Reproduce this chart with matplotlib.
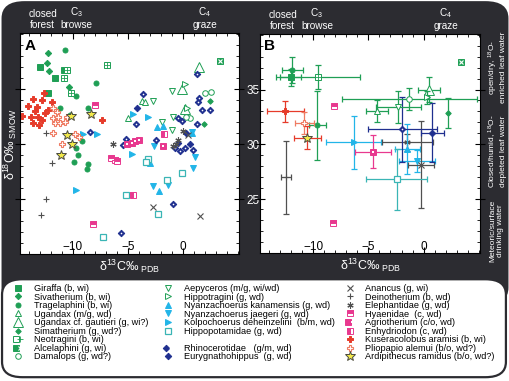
import matplotlib
matplotlib.use('Agg')
import matplotlib.pyplot as plt
from matplotlib.patches import FancyBboxPatch
from matplotlib.lines import Line2D
from matplotlib.legend_handler import HandlerTuple
from matplotlib.ticker import MultipleLocator, FixedLocator

plt.rcParams['font.family'] = ['Liberation Sans', 'DejaVu Sans']
plt.rcParams['mathtext.fontset'] = 'custom'
plt.rcParams['mathtext.rm'] = 'Liberation Sans'
plt.rcParams['mathtext.it'] = 'Liberation Sans:italic'
plt.rcParams['mathtext.bf'] = 'Liberation Sans:bold'

# colores
GREEN = '#1f9f55'
CYAN = '#22b5e8'
TEAL = '#3ab5b5'
NAVY = '#1f2f8f'
PINK = '#e8388f'
RED = '#e63b2a'
SALMON = '#ef7b62'
GRAY = '#505050'
YELLOW = '#f2e94a'
DARK = '#2c2c31'

# --- painel A: valores individuais (d13C, d18O) ---
giraffa = [(-12.95, 37.05), (-11.64, 36.03), (-10.79, 36.75), (-12.25, 34.64)]
sivatherium = [(-12.25, 38.27), (-12.39, 37.36), (-12.15, 36.66), (-10.36, 35.15)]
tragelaphini = [(-10.73, 38.57), (-7.85, 35.55), (-9.73, 34.33), (-11.12, 33.27), (-8.61, 33.27),
                (-10.27, 32.66), (-9.15, 30.24), (-9.75, 29.64), (-9.52, 29.03), (-9.91, 28.36),
                (-8.61, 28.18), (-8.70, 27.71)]
ugandax = [(-3.7, 33.95), (-3.4, 33.8), (-4.97, 32.36)]
ugandax_cf = [(1.45, 37.05), (-0.12, 35.0), (0.18, 33.2)]
simatherium = [(2.45, 33.9), (1.95, 31.8)]
neotragini = [(-10.57, 36.69), (-10.79, 35.98), (-10.18, 34.65), (-6.88, 37.15)]
alcelaphini = [(3.36, 37.57)]
damalops = [(2.0, 34.64), (2.6, 34.7), (0.64, 32.36), (0.3, 32.5)]
aepyceros = [(-2.7, 33.94), (-1.03, 34.78), (-1.88, 32.05), (-0.88, 32.45), (-1.03, 31.3)]
hippotragini = [(0.2, 35.45), (0.35, 33.3)]
kanamensis = [(-2.39, 31.51), (-1.8, 31.65), (-3.0, 28.27), (-2.15, 25.75), (0.8, 31.0)]
jaegeri = [(1.09, 28.82), (0.94, 27.82), (-1.34, 26.3), (-2.7, 26.15), (-2.64, 29.78), (0.8, 31.1)]
kolpochoerus = [(-9.06, 30.9), (-7.8, 30.9), (-3.15, 32.5), (-9.73, 25.85), (-4.66, 29.12), (-4.52, 32.75)]
hippopotamidae = [(-3.15, 28.64), (-3.39, 28.36), (-0.12, 27.36), (-1.48, 26.69), (-5.18, 25.39),
                  (-2.25, 23.64), (-7.3, 21.55)]
rhinocerotidae = [(-3.64, 34.57), (1.27, 36.39), (1.45, 34.21), (1.36, 33.85), (1.73, 33.12),
                  (2.45, 33.12), (-0.45, 32.39), (-0.09, 32.12), (1.27, 31.85), (-4.27, 31.85),
                  (-2.45, 30.39), (-0.73, 29.66), (-0.27, 29.39), (0.18, 29.66), (0.91, 29.48),
                  (-5.18, 30.48), (-5.45, 29.94), (-8.45, 31.12), (-0.91, 24.57), (-5.64, 21.94)]
eurygnathohippus = [(-4.18, 33.3), (0.64, 30.03), (-0.45, 30.12), (0.27, 31.03)]
anancus = [(-2.7, 24.27), (1.55, 23.48), (0.48, 30.78)]
deinotherium = [(-12.45, 31.0), (-11.85, 28.27), (-12.45, 25.0), (-12.85, 23.57)]
elephantidae = [(-6.33, 30.0), (0.0, 31.2), (-0.42, 30.4), (-0.88, 29.8), (-0.6, 30.0)]
hyaenidae = [(-8.0, 33.57), (-6.57, 28.73), (-6.18, 28.57), (-6.03, 28.42), (-8.15, 22.73)]
agriotherium = [(-5.12, 30.03), (-4.66, 30.09), (-4.36, 30.24), (-3.97, 30.39), (-1.85, 29.78)]
enhydriodon = [(-1.7, 30.94), (-4.57, 25.39)]
kuseracolobus = [(-13.64, 34.12), (-12.82, 34.03), (-11.91, 33.85), (-12.64, 34.66), (-14.09, 33.48),
                 (-13.27, 33.39), (-14.64, 32.57), (-13.82, 32.48), (-13.18, 32.48), (-12.82, 32.21),
                 (-13.64, 31.94), (-13.09, 31.75), (-12.55, 32.85), (-12.27, 33.12), (-13.45, 33.03),
                 (-7.36, 32.21)]
pliopapio = [(-11.82, 33.3), (-11.45, 32.94), (-11.64, 31.94), (-11.18, 31.94), (-10.73, 32.03),
             (-11.82, 32.39), (-11.36, 32.48), (-10.55, 32.48), (-11.82, 31.03), (-11.0, 30.03),
             (-9.82, 30.94), (-9.45, 30.66)]
ardipithecus = [(-10.21, 32.57), (-8.36, 32.73), (-10.55, 30.85), (-10.12, 30.03), (-11.09, 29.03)]

# --- painel B: medias e desvios ---
b_taxa = ['tragelaphini', 'giraffa', 'neotragini', 'tragelaphini', 'kuseracolobus', 'pliopapio',
          'ardipithecus', 'deinotherium', 'kolpochoerus', 'agriotherium', 'elephantidae', 'kanamensis',
          'jaegeri', 'anancus', 'hippopotamidae', 'rhinocerotidae', 'eurygnathohippus', 'ugandax',
          'aepyceros', 'damalops', 'simatherium', 'ugandax_cf', 'hippotragini', 'alcelaphini',
          'hyaenidae', 'hyaenidae']
b_x = [-11.89, -12.03, -9.51, -9.6, -12.5, -10.81, -10.52, -12.43, -6.33, -4.57, -1.46, -1.46,
       -0.61, -0.24, -2.43, -1.92, 0.77, -4.2, -2.28, -1.31, 2.2, 0.45, 0.3, 3.42, -8.07, -8.16]
b_y = [36.82, 36.12, 36.12, 31.73, 33.0, 31.94, 30.6, 26.94, 30.15, 29.3, 30.15, 29.55,
       28.48, 28.09, 26.79, 31.36, 31.03, 33.03, 33.39, 34.12, 32.85, 34.97, 34.3, 37.57, 33.45, 22.73]
b_xerr = [0.95, 0.95, 3.8, 0.75, 1.7, 0.85, 1.2, 0.45, 2.5, 1.6, 2.3, 1.15,
          1.65, 1.15, 2.75, 3.15, 1.05, 1.0, 2.0, 6.1, 0, 1.0, 0, 0, 0, 0]
b_yerr = [1.2, 0.8, 1.1, 3.15, 0.95, 1.0, 1.1, 3.35, 2.4, 1.5, 0.8, 2.3,
          1.0, 4.0, 2.8, 3.0, 2.7, 1.0, 1.45, 1.0, 1.4, 1.15, 0.6, 0, 0, 0]

# legenda (ordem por coluna)
col1 = ['giraffa', 'sivatherium', 'tragelaphini', 'ugandax', 'ugandax_cf', 'simatherium',
        'neotragini', 'alcelaphini', 'damalops']
col2 = ['aepyceros', 'hippotragini', 'kanamensis', 'jaegeri', 'kolpochoerus', 'hippopotamidae',
        None, 'rhinocerotidae', 'eurygnathohippus']
col3 = ['anancus', 'deinotherium', 'elephantidae', 'hyaenidae', 'agriotherium', 'enhydriodon',
        'kuseracolobus', 'pliopapio', 'ardipithecus']

labels = {
    'giraffa': 'Giraffa (b, wi)', 'sivatherium': 'Sivatherium (b, wi)',
    'tragelaphini': 'Tragelaphini (b, wi)', 'ugandax': 'Ugandax (m/g, wd)',
    'ugandax_cf': 'Ugandax cf. gautieri (g, wi?)', 'simatherium': 'Simatherium (g, wd?)',
    'neotragini': 'Neotragini (b, wi)', 'alcelaphini': 'Alcelaphini (g, wi)',
    'damalops': 'Damalops (g, wd?)', 'aepyceros': 'Aepyceros (m/g, wi/wd)',
    'hippotragini': 'Hippotragini (g, wd)', 'kanamensis': 'Nyanzachoerus kanamensis (g, wd)',
    'jaegeri': 'Nyanzachoerus jaegeri (g, wd)', 'kolpochoerus': 'Kolpochoerus deheinzelini  (b/m, wd)',
    'hippopotamidae': 'Hippopotamidae (g, wd)', 'rhinocerotidae': 'Rhinocerotidae   (g/m, wd)',
    'eurygnathohippus': 'Eurygnathohippus  (g, wd)', 'anancus': 'Anancus (g, wi)',
    'deinotherium': 'Deinotherium (b, wd)', 'elephantidae': 'Elephantidae (g, wd)',
    'hyaenidae': 'Hyaenidae  (c, wd)', 'agriotherium': 'Agriotherium (c/o, wd)',
    'enhydriodon': 'Enhydriodon (c, wd)', 'kuseracolobus': 'Kuseracolobus aramisi (b, wi)',
    'pliopapio': 'Pliopapio alemui (b/o, wd?)', 'ardipithecus': 'Ardipithecus ramidus (b/o, wd?)',
}

data_a = {
    'giraffa': giraffa, 'sivatherium': sivatherium, 'tragelaphini': tragelaphini, 'ugandax': ugandax,
    'ugandax_cf': ugandax_cf, 'simatherium': simatherium, 'neotragini': neotragini,
    'alcelaphini': alcelaphini, 'damalops': damalops, 'aepyceros': aepyceros,
    'hippotragini': hippotragini, 'kanamensis': kanamensis, 'jaegeri': jaegeri,
    'kolpochoerus': kolpochoerus, 'hippopotamidae': hippopotamidae, 'rhinocerotidae': rhinocerotidae,
    'eurygnathohippus': eurygnathohippus, 'anancus': anancus, 'deinotherium': deinotherium,
    'elephantidae': elephantidae, 'hyaenidae': hyaenidae, 'agriotherium': agriotherium,
    'enhydriodon': enhydriodon, 'kuseracolobus': kuseracolobus, 'pliopapio': pliopapio,
    'ardipithecus': ardipithecus,
}

# estilos dos marcadores: (principal, sobreposto)
def mk(m, ms, fc, ec, mew=0.7, **kw):
    d = dict(marker=m, ms=ms, mfc=fc, mec=ec, mew=mew, ls='none')
    d.update(kw)
    return d

style = {
    'giraffa': (mk('s', 4.0, GREEN, GREEN), None),
    'sivatherium': (mk('D', 3.2, GREEN, GREEN), None),
    'tragelaphini': (mk('o', 3.6, GREEN, GREEN), None),
    'ugandax': (mk('^', 3.8, 'white', GREEN), None),
    'ugandax_cf': (mk('^', 6.5, 'white', GREEN), None),
    'simatherium': (mk('D', 2.8, GREEN, GREEN), None),
    'neotragini': (mk('s', 4.4, 'white', GREEN), mk('+', 4.4, GREEN, GREEN, mew=0.6)),
    'alcelaphini': (mk('s', 4.4, GREEN, GREEN), mk('x', 2.8, 'white', 'white', mew=0.8)),
    'damalops': (mk('o', 4.0, 'white', GREEN), None),
    'aepyceros': (mk('v', 4.0, 'white', GREEN), None),
    'hippotragini': (mk('>', 4.0, 'white', GREEN), None),
    'kanamensis': (mk('^', 4.0, CYAN, CYAN), None),
    'jaegeri': (mk('v', 4.0, CYAN, CYAN), None),
    'kolpochoerus': (mk('>', 4.0, CYAN, CYAN), None),
    'hippopotamidae': (mk('s', 4.8, 'white', TEAL, mew=0.9), None),
    'rhinocerotidae': (mk('D', 3.3, NAVY, NAVY), mk('o', 1.2, 'white', 'white', mew=0)),
    'eurygnathohippus': (mk('D', 3.3, NAVY, NAVY), None),
    'anancus': (mk('x', 3.8, GRAY, GRAY, mew=0.8), None),
    'deinotherium': (mk('+', 4.5, GRAY, GRAY, mew=0.8), None),
    'elephantidae': (mk((6, 2, 0), 4.5, GRAY, GRAY, mew=0.8), None),
    'hyaenidae': (mk('s', 4.0, PINK, PINK, fillstyle='top', markerfacecoloralt='white'), None),
    'agriotherium': (mk('s', 4.0, PINK, PINK), mk('s', 1.6, 'white', 'white', mew=0)),
    'enhydriodon': (mk('s', 4.0, PINK, PINK, fillstyle='left', markerfacecoloralt='white'), None),
    'kuseracolobus': (mk('P', 4.4, RED, RED), None),
    'pliopapio': (mk('P', 4.4, 'white', SALMON, mew=0.8), None),
    'ardipithecus': (mk('*', 7.5, YELLOW, '#4a4a40', mew=0.7), None),
}
color_b = {
    'tragelaphini': GREEN, 'giraffa': GREEN, 'neotragini': GREEN, 'kuseracolobus': RED,
    'pliopapio': SALMON, 'ardipithecus': RED, 'deinotherium': GRAY, 'kolpochoerus': CYAN,
    'agriotherium': PINK, 'elephantidae': GRAY, 'kanamensis': CYAN, 'jaegeri': CYAN,
    'anancus': GRAY, 'hippopotamidae': TEAL, 'rhinocerotidae': NAVY, 'eurygnathohippus': NAVY,
    'ugandax': GREEN, 'aepyceros': GREEN, 'damalops': GREEN, 'simatherium': GREEN,
    'ugandax_cf': GREEN, 'hippotragini': GREEN, 'alcelaphini': GREEN, 'hyaenidae': PINK,
}

XLIM = (-14.8, 5.1)
YLIM = (20.0, 40.1)
XTICKS = [-10, -5, 0]
YTICKS = [25, 30, 35]


def fmt_axes(ax, letra):
    ax.set_facecolor('white')
    ax.set_xlim(XLIM)
    ax.set_ylim(YLIM)
    ax.xaxis.set_major_locator(FixedLocator(XTICKS))
    ax.yaxis.set_major_locator(FixedLocator(YTICKS))
    ax.xaxis.set_minor_locator(MultipleLocator(1))
    ax.yaxis.set_minor_locator(MultipleLocator(1))
    ax.tick_params(axis='x', which='both', direction='in', top=True, bottom=True,
                   pad=-9, labelsize=8.5, labelcolor='black')
    ax.tick_params(axis='x', which='major', length=4)
    ax.tick_params(axis='x', which='minor', length=2)
    ax.tick_params(axis='y', which='major', direction='inout', length=7, left=True, right=True,
                   labelleft=False, labelright=(letra == 'A'), labelcolor='white',
                   labelsize=8.5, pad=2)
    ax.tick_params(axis='y', which='minor', direction='in', length=2, left=True, right=True)
    for s in ax.spines.values():
        s.set_linewidth(0.8)
    ax.text(0.02, 0.975, letra, transform=ax.transAxes, fontsize=11, fontweight='bold',
            va='top', ha='left')
    ax.set_xlabel('δ$^{13}$C‰$_{\\ \\mathrm{PDB}}$', color='white', fontsize=9, labelpad=3)
    trans = ax.get_xaxis_transform()
    for xx, txt in [(-12.75, 'closed\nforest'), (-9.65, 'C$_3$\nbrowse'), (2.0, 'C$_4$\ngraze')]:
        ax.text(xx, 1.012, txt, transform=trans, ha='center', va='bottom', color='white',
                fontsize=7.2, linespacing=1.15)


fig = plt.figure(figsize=(5.1, 3.81), dpi=100, facecolor='white')

fundo = FancyBboxPatch((0.003, 0.2), 0.994, 0.797, boxstyle='round,pad=0,rounding_size=0.045',
                       transform=fig.transFigure, fc=DARK, ec='none', zorder=-10)
fig.patches.append(fundo)
caixa = FancyBboxPatch((0.004, 0.01), 0.988, 0.257, boxstyle='round,pad=0,rounding_size=0.04',
                       transform=fig.transFigure, fc='white', ec=DARK, lw=1.6, zorder=-9)
fig.patches.append(caixa)

axA = fig.add_axes([20 / 510, 1 - 254 / 381, 219 / 510, 221 / 381])
axB = fig.add_axes([260 / 510, 1 - 253 / 381, 220 / 510, 219 / 381])

handles = {}
for nome, pts in data_a.items():
    xs = [p[0] for p in pts]
    ys = [p[1] for p in pts]
    st, over = style[nome]
    h, = axA.plot(xs, ys, **st)
    if over is not None:
        h2, = axA.plot(xs, ys, **over)
        handles[nome] = (h, h2)
    else:
        handles[nome] = h

# painel B
for nome, x, y, xe, ye in zip(b_taxa, b_x, b_y, b_xerr, b_yerr):
    c = color_b[nome]
    if xe or ye:
        axB.errorbar([x], [y], xerr=[xe] if xe else None, yerr=[ye] if ye else None, fmt='none',
                     ecolor=c, elinewidth=0.9, capsize=2.2, capthick=0.9)
    st, over = style[nome]
    axB.plot([x], [y], **st)
    if over is not None:
        axB.plot([x], [y], **over)

fmt_axes(axA, 'A')
fmt_axes(axB, 'B')
fig.text(10 / 510, 1 - 143.5 / 381, 'δ$^{18}$O‰$_{\\ \\mathrm{SMOW}}$', rotation=90, color='white',
         fontsize=9, ha='center', va='center')

# textos laterais do painel B
for yy, txt in [(0.824, 'open/dry, $^{18}$O-\nenriched leaf water'),
                (0.603, 'Closed/humid, $^{18}$O-\ndepleted leaf water'),
                (0.395, 'Meteoric/surface\ndrinking water')]:
    fig.text(0.974, yy, txt, rotation=90, ha='center', va='center', color='white',
             fontsize=6, linespacing=1.1)

# legenda em tres colunas
vazio = Line2D([], [], ls='none', marker='')
for col, x0 in [(col1, 13.6 / 510), (col2, 163.6 / 510), (col3, 345.3 / 510)]:
    hs = [handles[n] if n else vazio for n in col]
    ls = [labels[n] if n else '' for n in col]
    fig.legend(hs, ls, loc='upper left', bbox_to_anchor=(x0, 1 - 284 / 381),
               bbox_transform=fig.transFigure, frameon=False, fontsize=6.6,
               handlelength=1.0, handletextpad=1.2, labelspacing=-0.05, borderpad=0,
               borderaxespad=0, numpoints=1, handler_map={tuple: HandlerTuple(ndivide=None)})

fig.savefig('out.png', dpi=100, facecolor='white')
